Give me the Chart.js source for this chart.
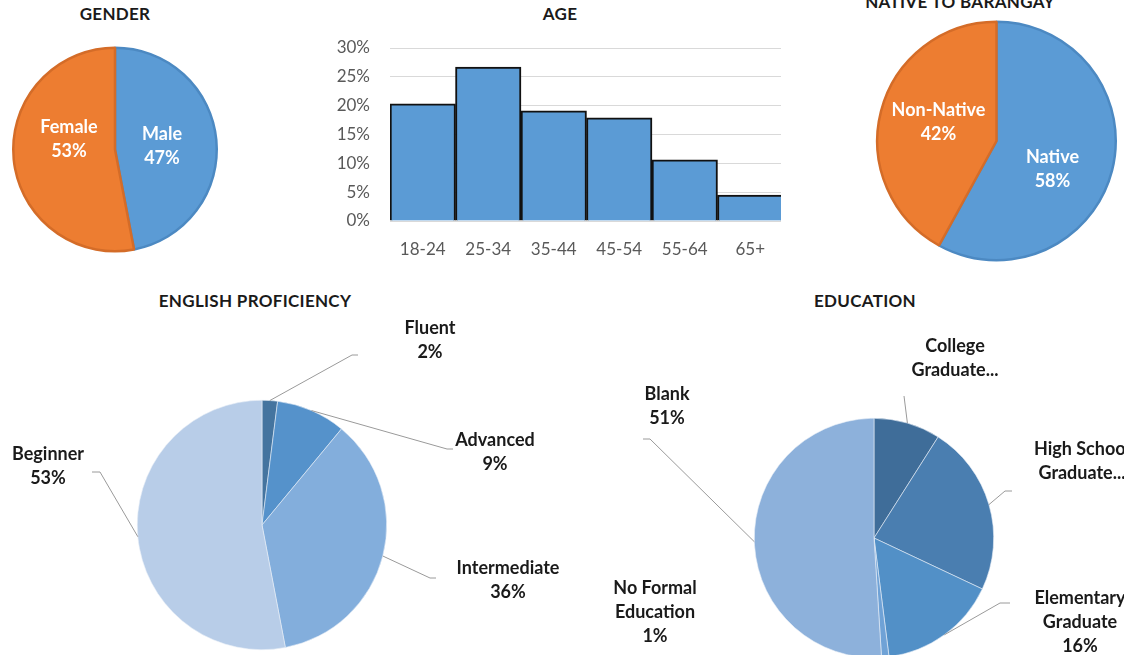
<!DOCTYPE html>
<html>
<head>
<meta charset="utf-8">
<script src="https://cdn.jsdelivr.net/npm/chart.js@4"></script>
<style>
  html, body { margin: 0; padding: 0; background: #fff; }
  #page { position: relative; width: 1124px; height: 655px; overflow: hidden; font-family: Lato, "Open Sans", sans-serif; }
  .title { position: absolute; transform: translate(-50%, -50%); font-weight: bold; font-size: 17px; color: #1a1a1a; white-space: nowrap; line-height: 1; letter-spacing: 0.3px; }
  canvas { position: absolute; }
  #ageWrap { position: absolute; left: 320px; top: 0; width: 461px; height: 270px; overflow: hidden; }
  #ageWrap canvas { left: 0; top: 0; }
</style>
</head>
<body>
<div id="page">
  <div class="title" style="left:115px;top:13px">GENDER</div>
  <div class="title" style="left:560px;top:13px">AGE</div>
  <div class="title" style="left:960px;top:1px">NATIVE TO BARANGAY</div>
  <div class="title" style="left:255px;top:300px">ENGLISH PROFICIENCY</div>
  <div class="title" style="left:865px;top:300px">EDUCATION</div>

  <canvas id="gender" width="230" height="265" style="left:0;top:0"></canvas>
  <div id="ageWrap"><canvas id="age" width="480" height="270"></canvas></div>
  <canvas id="native" width="264" height="270" style="left:860px;top:0"></canvas>
  <canvas id="english" width="580" height="375" style="left:0;top:280px"></canvas>
  <canvas id="education" width="524" height="400" style="left:600px;top:280px"></canvas>
</div>
<script>
// ---- data ----
const genderLabels = ['Male', 'Female'];
const genderValues = [47, 53];

const ageLabels = ['18-24', '25-34', '35-44', '45-54', '55-64', '65+'];
const ageValues = [20.3, 26.7, 19.1, 17.9, 10.6, 4.5];
const ageTicks = [0, 5, 10, 15, 20, 25, 30];

const nativeLabels = ['Native', 'Non-Native'];
const nativeValues = [58, 42];

const englishLabels = ['Fluent', 'Advanced', 'Intermediate', 'Beginner'];
const englishValues = [2, 9, 36, 53];

const educationLabels = ['College Graduate', 'High School Graduate', 'Elementary Graduate', 'No Formal Education', 'Blank'];
const educationValues = [9, 23, 16, 1, 51];

const FONT = 'Lato, "Open Sans", sans-serif';
Chart.defaults.font.family = FONT;
Chart.defaults.animation = false;

// draws slice labels (and optional leader lines) relative to the pie centre
const sliceLabels = {
    id: 'sliceLabels',
    afterDatasetsDraw(chart, args, opts) {
        const arcs = chart.getDatasetMeta(0).data;
        const values = chart.data.datasets[0].data;
        const cx = arcs[0].x, cy = arcs[0].y;
        const ctx = chart.ctx;
        ctx.save();
        ctx.font = 'bold 18px ' + FONT;
        ctx.textAlign = 'center';
        ctx.textBaseline = 'middle';
        opts.items.forEach((it, i) => {
            if (!it) return;
            if (it.elbow) {
                const arc = arcs[i];
                const mid = (arc.startAngle + arc.endAngle) / 2;
                const r = arc.outerRadius;
                ctx.beginPath();
                ctx.strokeStyle = '#9a9a9a';
                ctx.lineWidth = 1;
                ctx.moveTo(cx + Math.cos(mid) * r, cy + Math.sin(mid) * r);
                ctx.lineTo(cx + it.elbow[0], cy + it.elbow[1]);
                if (it.tail) ctx.lineTo(cx + it.elbow[0] + it.tail, cy + it.elbow[1]);
                ctx.stroke();
            }
            const lines = (it.lines || [chart.data.labels[i]]).slice();
            if (it.pct !== false) lines.push(values[i] + '%');
            ctx.fillStyle = opts.color;
            const lh = 24;
            const y0 = cy + it.pos[1] - (lines.length - 1) * lh / 2;
            lines.forEach((t, k) => ctx.fillText(t, cx + it.pos[0], y0 + k * lh));
        });
        ctx.restore();
    }
};

function pieChart(id, labels, values, colors, border, padding, labelOpts) {
    return new Chart(document.getElementById(id), {
        type: 'pie',
        data: {
            labels: labels,
            datasets: [{
                data: values,
                backgroundColor: colors,
                borderColor: border.color,
                borderWidth: border.width
            }]
        },
        options: {
            responsive: false,
            layout: { padding: padding },
            plugins: {
                legend: { display: false },
                tooltip: { enabled: false },
                sliceLabels: labelOpts
            }
        },
        plugins: [sliceLabels]
    });
}

pieChart('gender', genderLabels, genderValues,
    ['#5B9BD5', '#ED7D31'],
    { color: ['#4c89c2', '#d46c28'], width: 2.5 },
    { left: 12, right: 12, top: 46, bottom: 12 },
    { color: '#ffffff', items: [{ pos: [47, -3] }, { pos: [-46, -10] }] });

pieChart('native', nativeLabels, nativeValues,
    ['#5B9BD5', '#ED7D31'],
    { color: ['#4c89c2', '#d46c28'], width: 2.5 },
    { left: 16, right: 7, top: 20, bottom: 8 },
    { color: '#ffffff', items: [{ pos: [56, 28] }, { pos: [-58, -19] }] });

pieChart('english', englishLabels, englishValues,
    ['#44749f', '#5592cb', '#83aedc', '#b8cde8'],
    { color: '#e8eef7', width: 0.6 },
    { left: 137, right: 193, top: 120, bottom: 5 },
    { color: '#1a1a1a', items: [
        { pos: [168, -185], elbow: [90, -170], tail: 6 },
        { pos: [233, -73], elbow: [185, -76], tail: 6 },
        { pos: [246, 55], elbow: [168, 53], tail: 6 },
        { pos: [-214, -59], elbow: [-162, -53], tail: -8 }
    ] });

pieChart('education', educationLabels, educationValues,
    ['#3f6d99', '#4a7eb0', '#5290c7', '#6fa2d6', '#8db1db'],
    { color: '#e8eef7', width: 0.6 },
    { left: 154, right: 130, top: 138, bottom: 22 },
    { color: '#1a1a1a', items: [
        { pos: [81, -180], lines: ['College', 'Graduate...'], pct: false, elbow: [30, -142] },
        { pos: [208, -77], lines: ['High School', 'Graduate...'], pct: false, elbow: [131, -47], tail: 7 },
        { pos: [206, 84], lines: ['Elementary', 'Graduate'], elbow: [126, 65], tail: 10 },
        { pos: [-219, 74], lines: ['No Formal', 'Education'] },
        { pos: [-207, -132], elbow: [-224, -99], tail: -7 }
    ] });

const tickFont = { family: FONT, size: 17 };
new Chart(document.getElementById('age'), {
    type: 'bar',
    data: {
        labels: ageLabels,
        datasets: [{
            data: ageValues,
            backgroundColor: '#5B9BD5',
            borderColor: '#111111',
            borderWidth: 2,
            categoryPercentage: 1,
            barPercentage: 1
        }]
    },
    options: {
        responsive: false,
        layout: { padding: { left: 10, right: 17, top: 48, bottom: 9 } },
        plugins: { legend: { display: false }, tooltip: { enabled: false } },
        scales: {
            x: {
                grid: { display: false, drawTicks: false },
                border: { display: false },
                ticks: { padding: 18, color: '#595959', font: tickFont },
                afterFit(s) { s.height = 40; }
            },
            y: {
                min: ageTicks[0],
                max: ageTicks[ageTicks.length - 1],
                afterBuildTicks(s) { s.ticks = ageTicks.map(v => ({ value: v })); },
                ticks: { padding: 20, color: '#595959', font: tickFont, callback: v => v + '%' },
                grid: { color: '#d9d9d9', drawTicks: false },
                border: { display: false },
                afterFit(s) { s.width = 60; }
            }
        }
    }
});
</script>
</body>
</html>
